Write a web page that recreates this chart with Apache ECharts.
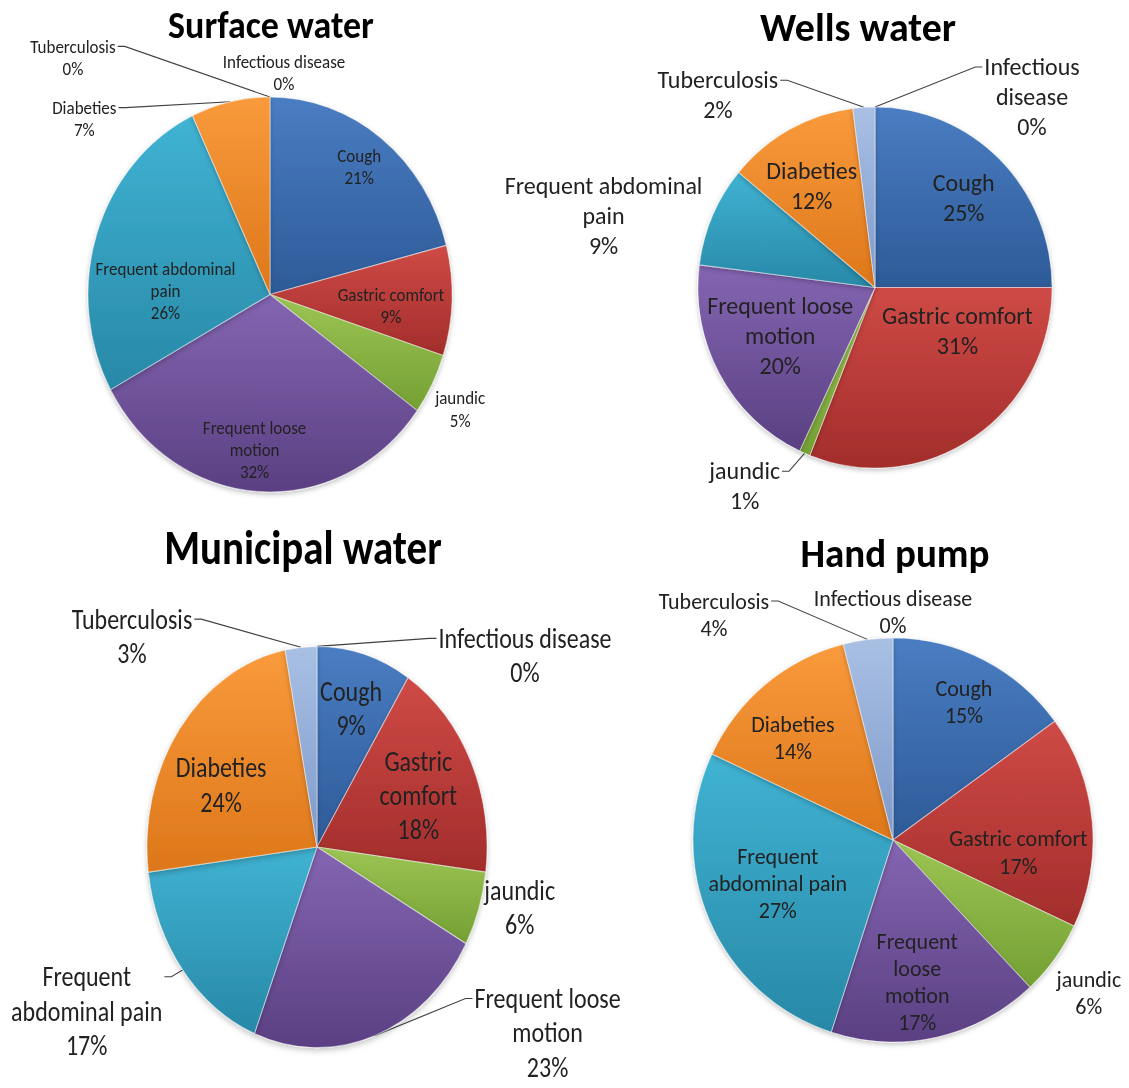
<!DOCTYPE html>
<html><head><meta charset="utf-8">
<script src="https://cdn.jsdelivr.net/npm/echarts@6/dist/echarts.min.js"></script>
<style>html,body{margin:0;padding:0;background:#fff}
#wrap{position:relative;width:1129px;height:1088px;background:#fff;overflow:hidden}
.panel{position:absolute;left:0;top:0;width:1129px;height:1088px}</style>
</head><body><div id="wrap"></div>
<script>
// ---- data ----
const categories = ['Cough','Gastric comfort','jaundic','Frequent loose motion','Frequent abdominal pain','Diabeties','Tuberculosis','Infectious disease'];
const titles = ['Surface water','Wells water','Municipal water','Hand pump'];
const surfaceValues   = [21, 9, 5, 32, 26, 7, 0, 0];
const wellsValues     = [25, 31, 1, 20, 9, 12, 2, 0];
const municipalValues = [9, 18, 6, 23, 17, 24, 3, 0];
const handPumpValues  = [15, 17, 6, 17, 27, 14, 4, 0];
// label texts as printed (line breaks)
const surfaceLabels   = ['Cough','Gastric comfort','jaundic','Frequent loose\nmotion','Frequent abdominal\npain','Diabeties','Tuberculosis','Infectious disease'];
const wellsLabels     = ['Cough','Gastric comfort','jaundic','Frequent loose\nmotion','Frequent abdominal\npain','Diabeties','Tuberculosis','Infectious\ndisease'];
const municipalLabels = ['Cough','Gastric\ncomfort','jaundic','Frequent loose\nmotion','Frequent\nabdominal pain','Diabeties','Tuberculosis','Infectious disease'];
const handPumpLabels  = ['Cough','Gastric comfort','jaundic','Frequent\nloose\nmotion','Frequent\nabdominal pain','Diabeties','Tuberculosis','Infectious disease'];

// ---- styles / layout ----
const FONT = "Carlito, Calibri, Lato, sans-serif";
const sliceColors = [
  ['#4A7DC2', '#2D5A98'],
  ['#CF4A46', '#A22D2B'],
  ['#9CC554', '#74A033'],
  ['#8465B2', '#5A4082'],
  ['#40B3D3', '#2888A7'],
  ['#F99A3C', '#DD771A'],
  ['#A9C0E4', '#7E9ACA'],
  ['#B9CDE5', '#95B3D7']
];
function grad(c) {
  return new echarts.graphic.LinearGradient(0, 0, 0, 1, [{offset: 0, color: c[0]}, {offset: 1, color: c[1]}]);
}
// each panel: pie centre, horizontal radius, vertical stretch s (the original figure is stretched),
// font size / line height, inner-label radius factor, outer label offsets [dx, dy, hasLine] from the slice edge,
// inner label nudges [dx, dy]; titlePos = [centre x, top]
const pies = [
  {values: surfaceValues, labels: surfaceLabels, title: titles[0], center: [270, 294.5], r: 182, s: 1.085,
   fs: 17, lh: 20.5, inner: 0.72, titleSize: 36, titlePos: [271, 5],
   outer: {2: [28, 25, 0], 5: [-146, 17, 1], 6: [-197, -39.5, 1], 7: [14, -24.5, 0]},
   nudge: {0: [7, -13], 1: [-13, 7], 3: [-7, 10], 4: [23, 41]}},
  {values: wellsValues, labels: wellsLabels, title: titles[1], center: [875, 287.5], r: 177, s: 1.02,
   fs: 24, lh: 29.4, inner: 0.62, titleSize: 40, titlePos: [858, 7],
   outer: {2: [-60, 33, 1], 4: [-109, 0, 0], 6: [-146, -12, 1], 7: [157, -10, 1]},
   nudge: {0: [9, -8], 1: [19, -52], 3: [4, -7], 5: [-9, -1]}},
  {values: municipalValues, labels: municipalLabels, title: titles[2], center: [317, 847], r: 170, s: 1.18,
   fs: 24, lh: 29, inner: 0.68, titleSize: 41, titlePos: [303, 523],
   outer: {2: [41, -2, 0], 3: [173, -3, 1], 4: [-96, 41, 1], 6: [-169, -11, 1], 7: [208, 9, 1]},
   nudge: {0: [1, -4], 1: [-6, 8], 5: [0, 20]}},
  {values: handPumpValues, labels: handPumpLabels, title: titles[3], center: [893, 840], r: 200, s: 1.01,
   fs: 22, lh: 27, inner: 0.70, titleSize: 39, titlePos: [895, 534],
   outer: {2: [34, 34, 0], 6: [-154, -25, 1], 7: [0, -26, 0]},
   nudge: {0: [6, -9], 1: [-17, 26], 3: [-7, 1], 4: [16, -14], 5: [-9, 9]}}
];

function fmt(p) {
  return params => p.labels[params.dataIndex] + '\n' + Math.round(params.percent) + '%';
}
function outerLayout(p) {
  return params => {
    const cfg = p.outer[params.dataIndex];
    if (!cfg || !params.labelLinePoints) return {};
    const p0 = params.labelLinePoints[0];
    const cx = p0[0] + cfg[0], cy = p0[1] + cfg[1] / p.s;
    const w = params.labelRect.width, h = params.labelRect.height;
    const firstY = cy - h / 2 + p.lh / 2;
    const right = cfg[0] > 0;
    const ax = right ? cx - w / 2 - 2 : cx + w / 2 + 2;
    const bx = right ? ax - 7 : ax + 7;
    return {x: cx, y: cy, align: 'center', verticalAlign: 'middle',
            labelLinePoints: [[p0[0], p0[1]], [bx, firstY], [ax, firstY]]};
  };
}

const wrap = document.getElementById('wrap');
pies.forEach(p => {
  const el = document.createElement('div');
  el.className = 'panel';
  el.style.transformOrigin = p.center[0] + 'px ' + p.center[1] + 'px';
  el.style.transform = 'scaleY(' + p.s + ')';
  wrap.appendChild(el);
  const titleTop = p.center[1] + (p.titlePos[1] - p.center[1]) / p.s;
  const series = [{
    type: 'pie', center: p.center, radius: [0, p.r], startAngle: 90, clockwise: true,
    avoidLabelOverlap: false, silent: true, animation: false,
    itemStyle: {borderColor: 'rgba(255,255,255,0.45)', borderWidth: 1,
                shadowBlur: 5, shadowColor: 'rgba(0,0,0,0.25)', shadowOffsetY: 2},
    label: {position: 'outside', fontFamily: FONT, fontSize: p.fs, lineHeight: p.lh, color: '#222',
            overflow: 'none', formatter: fmt(p)},
    labelLine: {length: 2, length2: 2, lineStyle: {color: '#404040', width: 1}},
    labelLayout: outerLayout(p),
    data: categories.map((name, i) => {
      const o = p.outer[i];
      return {name, value: p.values[i], itemStyle: {color: grad(sliceColors[i])},
        label: {show: !!o},
        labelLine: {show: !!o, lineStyle: {opacity: o && o[2] ? 1 : 0}}};
    })
  }, {
    type: 'pie', center: p.center, radius: [0, 2 * p.inner * p.r], startAngle: 90, clockwise: true,
    avoidLabelOverlap: false, silent: true, animation: false,
    itemStyle: {color: 'rgba(0,0,0,0)', borderWidth: 0},
    label: {position: 'inside', fontFamily: FONT, fontSize: p.fs, lineHeight: p.lh, color: '#222',
            textBorderWidth: 0, formatter: fmt(p)},
    labelLine: {show: false},
    labelLayout: params => { const n = p.nudge[params.dataIndex]; return n ? {dx: n[0], dy: n[1] / p.s} : {}; },
    data: categories.map((name, i) => ({name, value: p.values[i], label: {show: p.outer[i] === undefined}}))
  }];
  const chart = echarts.init(el, null, {renderer: 'svg'});
  chart.setOption({
    animation: false,
    title: {text: p.title, left: p.titlePos[0], top: titleTop, textAlign: 'center', padding: 0,
            textStyle: {fontFamily: FONT, fontSize: p.titleSize, fontWeight: 'bold', color: '#000'}},
    series
  });
});
</script>
</body></html>
